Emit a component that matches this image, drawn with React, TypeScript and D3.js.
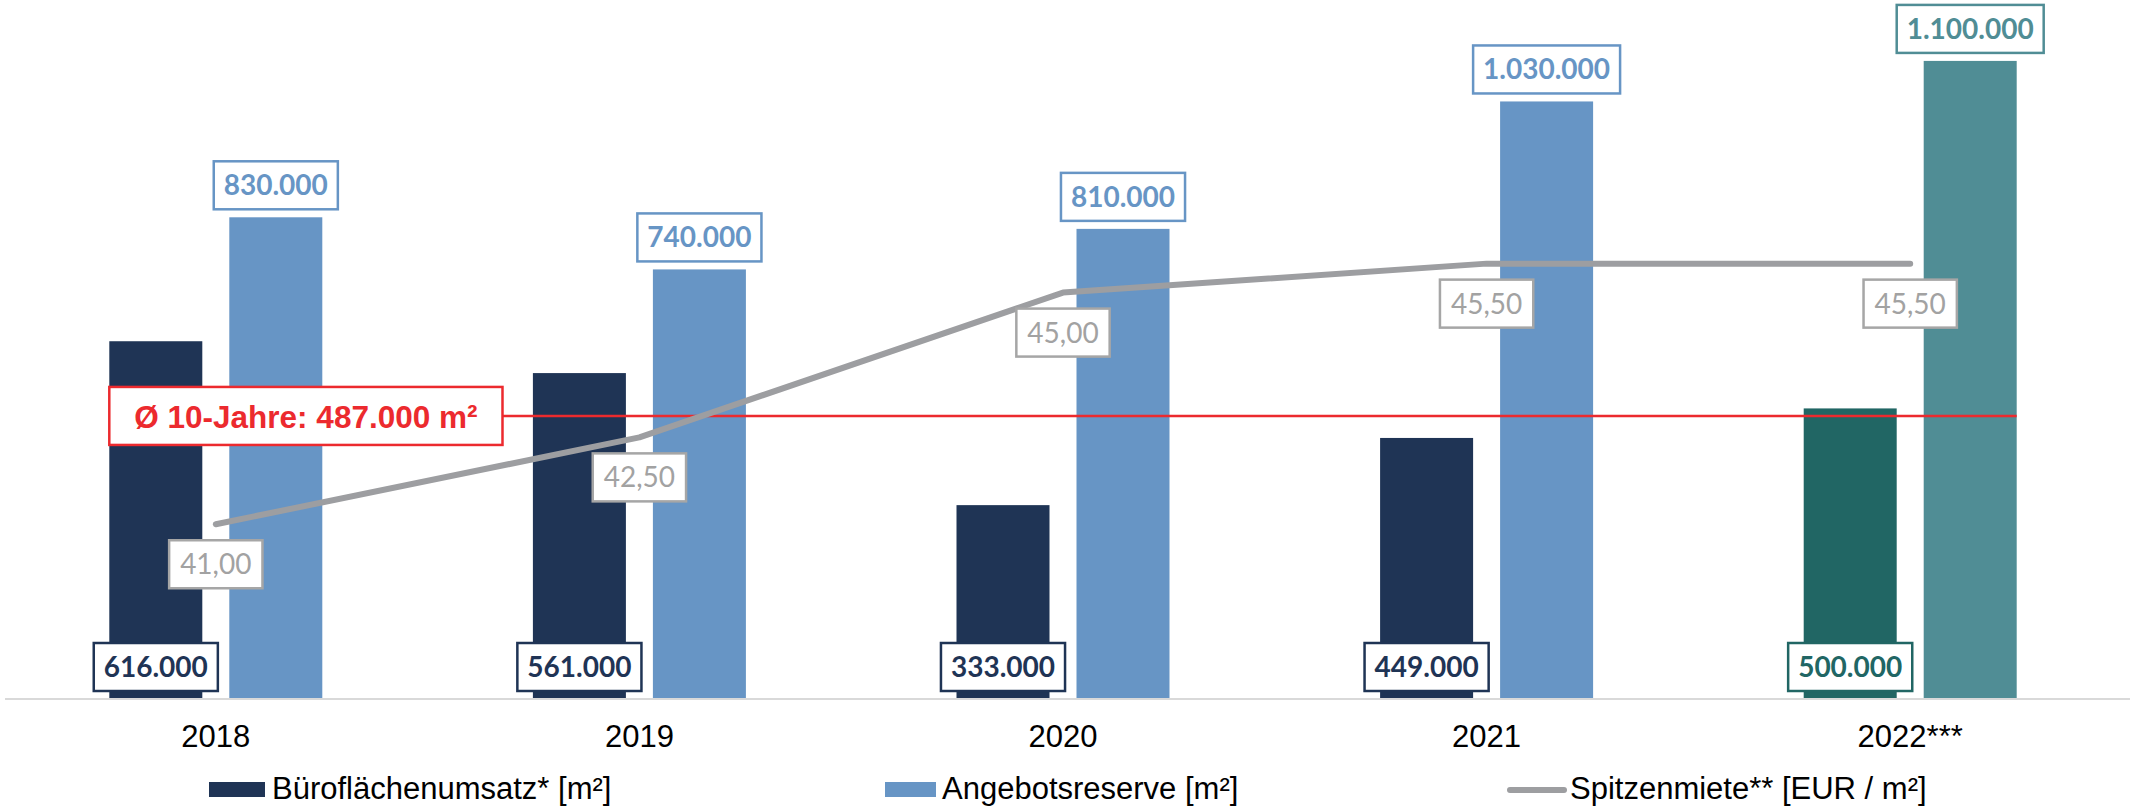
import * as d3 from 'd3';

// Daten
const years = ['2018', '2019', '2020', '2021', '2022***'];
const umsatz = [616000, 561000, 333000, 449000, 500000];
const angebot = [830000, 740000, 810000, 1030000, 1100000];
const miete = [41.0, 42.5, 45.0, 45.5, 45.5];
const avg10 = 487000;
const avgLabel = 'Ø 10-Jahre: 487.000 m²';

const legendItems = ['Büroflächenumsatz* [m²]', 'Angebotsreserve [m²]', 'Spitzenmiete** [EUR / m²]'];

// Farben
const NAVY = '#1f3455';
const BLUE = '#6795c5';
const TEAL_DARK = '#216664';
const TEAL = '#508d95';
const GREY = '#9d9ea1';
const GREY_TXT = '#a2a2a2';
const RED = '#ec2a2e';

const W = 2134;
const H = 807;
const ARIAL = '"Liberation Sans", Arial, sans-serif';
const LATO = 'Lato, "Open Sans", sans-serif';

const fmtDE = (v: number) => d3.format(',')(v).replace(/,/g, '.');
const fmtMiete = (v: number) => v.toFixed(2).replace('.', ',');

let ctx: CanvasRenderingContext2D | null = null;
const textWidth = (text: string, font: string) => {
    if (!ctx) ctx = document.createElement('canvas').getContext('2d');
    if (!ctx) return text.length * 15;
    ctx.font = font;
    return ctx.measureText(text).width;
};

export default function App() {
    const x = d3.scaleBand<string>().domain(years).range([4, 2122]);
    const x1 = d3.scaleBand<string>().domain(['u', 'a']).range([-106.5, 106.5]).paddingInner(0.225);
    const y = d3.scaleLinear().domain([0, 1200000]).range([698, 3]);
    const y2 = d3.scaleLinear().domain([38, 50]).range([698, 3]);

    const cx = (yr: string) => (x(yr) ?? 0) + x.bandwidth() / 2;
    const last = years.length - 1;
    const darkCol = (i: number) => (i === last ? TEAL_DARK : NAVY);
    const lightCol = (i: number) => (i === last ? TEAL : BLUE);

    const line = d3.line<number>()
        .x((_, i) => cx(years[i]))
        .y(d => y2(d));

    const labelFont = `bold 28px ${LATO}`;
    const mieteFont = `28px ${LATO}`;
    const redFont = `bold 31.5px ${ARIAL}`;

    const redX = cx(years[0]) + (x1('u') ?? 0);
    const redW = textWidth(avgLabel, redFont) + 50;
    const redY = y(avg10);
    const lineEnd = cx(years[last]) + (x1('a') ?? 0) + x1.bandwidth();

    return (
        <svg width={W} height={H} style={{ position: 'absolute', left: 0, top: 0, background: '#fff' }}>
            {/* Achse */}
            <line x1={5} x2={2130} y1={y(0) + 1} y2={y(0) + 1} stroke="#d9d9d9" strokeWidth={2} />

            {/* Balken */}
            {years.map((yr, i) => (
                <g key={yr}>
                    <rect x={cx(yr) + (x1('u') ?? 0)} width={x1.bandwidth()} y={y(umsatz[i])}
                        height={y(0) - y(umsatz[i])} fill={darkCol(i)} />
                    <rect x={cx(yr) + (x1('a') ?? 0)} width={x1.bandwidth()} y={y(angebot[i])}
                        height={y(0) - y(angebot[i])} fill={lightCol(i)} />
                </g>
            ))}

            {/* 10-Jahres-Durchschnitt */}
            <line x1={redX + redW} x2={lineEnd} y1={redY} y2={redY} stroke={RED} strokeWidth={2.5} />
            <rect x={redX} y={redY - 29} width={redW} height={58} fill="#fff" stroke={RED} strokeWidth={2.5} />
            <text x={redX + redW / 2} y={redY + 12} textAnchor="middle" fill={RED}
                style={{ font: redFont }}>{avgLabel}</text>

            {/* Spitzenmiete */}
            <path d={line(miete) ?? ''} fill="none" stroke={GREY} strokeWidth={6}
                strokeLinecap="round" strokeLinejoin="round" />

            {/* Beschriftungen */}
            {years.map((yr, i) => {
                const c = cx(yr);
                const dc = c + (x1('u') ?? 0) + x1.bandwidth() / 2;
                const lc = c + (x1('a') ?? 0) + x1.bandwidth() / 2;
                const uTxt = fmtDE(umsatz[i]);
                const aTxt = fmtDE(angebot[i]);
                const mTxt = fmtMiete(miete[i]);
                const uw = textWidth(uTxt, labelFont) + 20;
                const aw = textWidth(aTxt, labelFont) + 20;
                const mw = textWidth(mTxt, mieteFont) + 22;
                const aTop = y(angebot[i]) - 8 - 48;
                const uTop = y(0) - 7 - 48;
                const mTop = y2(miete[i]) + 16;
                return (
                    <g key={'l' + yr}>
                        <rect x={lc - aw / 2} y={aTop} width={aw} height={48} fill="#fff"
                            stroke={lightCol(i)} strokeWidth={2.5} />
                        <text x={lc} y={aTop + 34} textAnchor="middle" fill={lightCol(i)}
                            style={{ font: labelFont }}>{aTxt}</text>

                        <rect x={dc - uw / 2} y={uTop} width={uw} height={48} fill="#fff"
                            stroke={darkCol(i)} strokeWidth={2.5} />
                        <text x={dc} y={uTop + 34} textAnchor="middle" fill={darkCol(i)}
                            style={{ font: labelFont }}>{uTxt}</text>

                        <rect x={c - mw / 2} y={mTop} width={mw} height={48} fill="#fff"
                            stroke="#a6a6a6" strokeWidth={2.5} />
                        <text x={c} y={mTop + 34} textAnchor="middle" fill={GREY_TXT}
                            style={{ font: mieteFont }}>{mTxt}</text>

                        <text x={c} y={747} textAnchor="middle" fill="#000"
                            style={{ font: `31px ${ARIAL}` }}>{yr}</text>
                    </g>
                );
            })}

            {/* Legende */}
            <g style={{ font: `31px ${ARIAL}` }}>
                <rect x={209} y={782} width={56} height={15} fill={NAVY} />
                <text x={272} y={799} fill="#000">{legendItems[0]}</text>
                <rect x={885} y={782} width={51} height={15} fill={BLUE} />
                <text x={942} y={799} fill="#000">{legendItems[1]}</text>
                <line x1={1510} x2={1564} y1={790} y2={790} stroke={GREY} strokeWidth={6} strokeLinecap="round" />
                <text x={1570} y={799} fill="#000">{legendItems[2]}</text>
            </g>
        </svg>
    );
}
